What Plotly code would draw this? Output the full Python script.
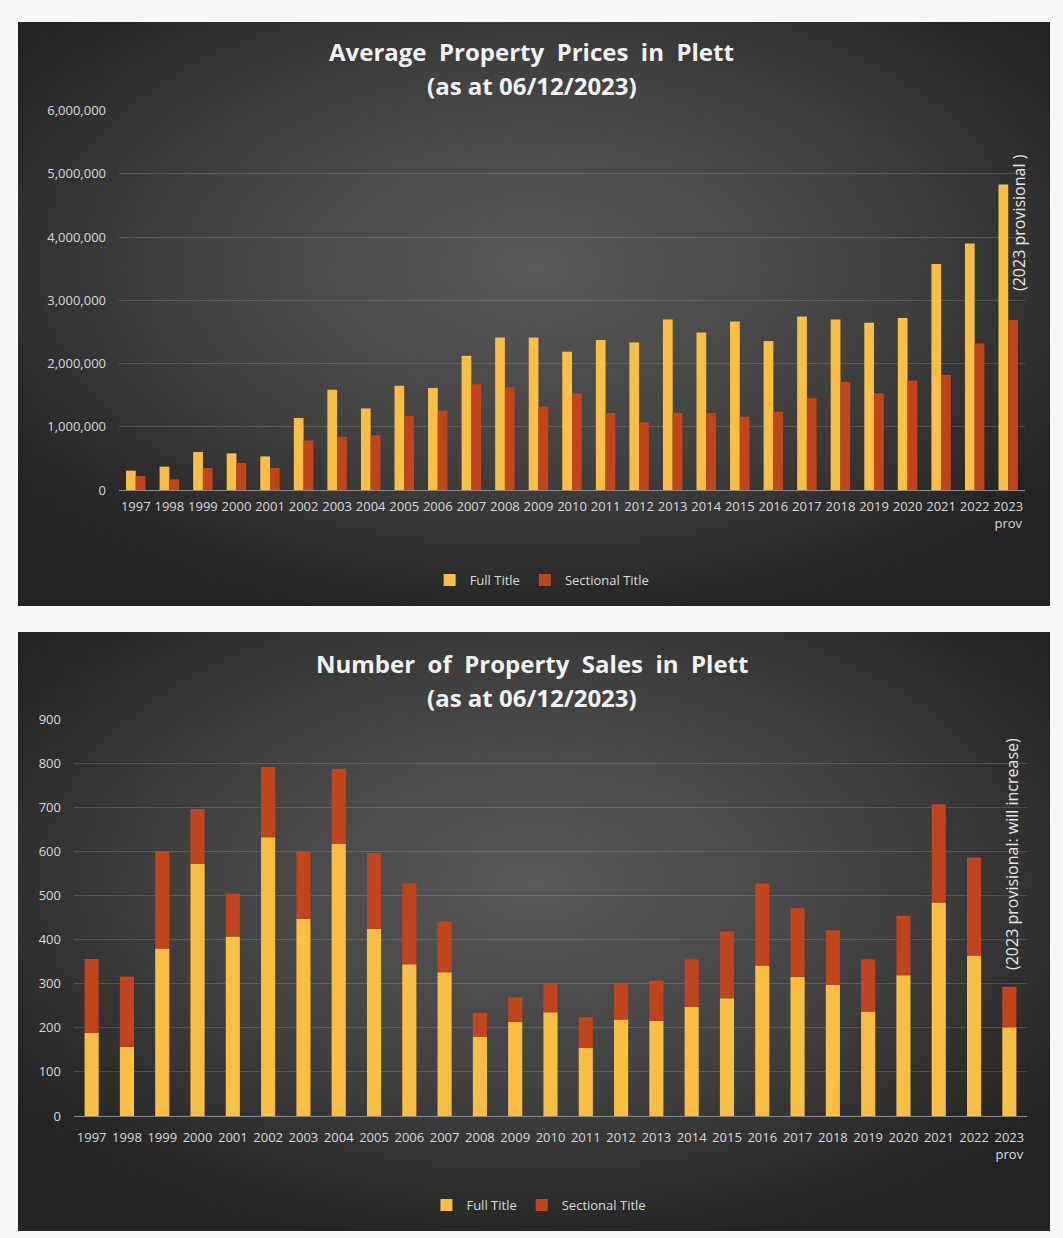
import base64
import plotly.graph_objects as go

categories = ["1997", "1998", "1999", "2000", "2001", "2002", "2003", "2004", "2005",
              "2006", "2007", "2008", "2009", "2010", "2011", "2012", "2013", "2014",
              "2015", "2016", "2017", "2018", "2019", "2020", "2021", "2022", "2023<br>prov"]

price_full = [306000, 369000, 601000, 580000, 532000, 1139000, 1587000, 1291000, 1650000,
              1613000, 2124000, 2414000, 2414000, 2188000, 2372000, 2335000, 2699000, 2493000,
              2667000, 2356000, 2746000, 2699000, 2646000, 2720000, 3574000, 3901000, 4834000]
price_sectional = [221000, 169000, 348000, 427000, 348000, 785000, 843000, 865000, 1170000,
                   1255000, 1671000, 1624000, 1318000, 1526000, 1218000, 1070000, 1218000, 1218000,
                   1160000, 1239000, 1450000, 1708000, 1529000, 1734000, 1819000, 2319000, 2688000]

sales_full = [188, 157, 380, 572, 407, 632, 447, 617, 424, 344, 326, 180, 213, 235,
              154, 219, 216, 247, 267, 341, 315, 297, 237, 319, 484, 364, 201]
sales_sectional = [168, 159, 219, 124, 97, 159, 152, 170, 172, 183, 115, 54, 56, 64,
                   70, 80, 91, 108, 151, 186, 156, 124, 118, 135, 223, 222, 92]

price_y_ticks = [0, 1000000, 2000000, 3000000, 4000000, 5000000, 6000000]
sales_y_ticks = [0, 100, 200, 300, 400, 500, 600, 700, 800, 900]

YELLOW = "#F9BF45"
RED = "#C0441C"
TXT = "#D9D9D9"
FONT = "Open Sans"

W, H = 1063, 1238


def px_x(p):
    return p / W


def px_y(p):
    return 1 - p / H


def grad_uri(w, h):
    svg = (f"<svg xmlns='http://www.w3.org/2000/svg' width='{w}' height='{h}' viewBox='0 0 {w} {h}' "
           "preserveAspectRatio='none'><defs><radialGradient id='g' cx='50%' cy='42%' r='62%'>"
           "<stop offset='0' stop-color='#595959'/><stop offset='0.55' stop-color='#414141'/>"
           "<stop offset='1' stop-color='#232323'/></radialGradient></defs>"
           f"<rect width='{w}' height='{h}' fill='url(#g)'/></svg>")
    return "data:image/svg+xml;base64," + base64.b64encode(svg.encode()).decode()


fig = go.Figure()

# Top chart: grouped bars (explicit offsets)
fig.add_trace(go.Bar(x=categories, y=price_full, name="Full Title", marker_color=YELLOW,
                     marker_line_width=0, width=0.29, offset=-0.29, xaxis="x", yaxis="y",
                     legend="legend"))
fig.add_trace(go.Bar(x=categories, y=price_sectional, name="Sectional Title", marker_color=RED,
                     marker_line_width=0, width=0.29, offset=0.0, xaxis="x", yaxis="y",
                     legend="legend"))

# Bottom chart: stacked bars
fig.add_trace(go.Bar(x=categories, y=sales_full, name="Full Title", marker_color=YELLOW,
                     marker_line_width=0, width=0.4, offset=-0.2, xaxis="x2", yaxis="y2",
                     legend="legend2"))
fig.add_trace(go.Bar(x=categories, y=sales_sectional, base=sales_full, name="Sectional Title",
                     marker_color=RED, marker_line_width=0, width=0.4, offset=-0.2,
                     xaxis="x2", yaxis="y2", legend="legend2"))

axis_common = dict(
    showgrid=False, tickfont=dict(family=FONT, size=13, color=TXT), tickangle=0,
    showline=True, linecolor="#8A8A8A", linewidth=1, ticks="", fixedrange=True,
    type="category", categoryorder="array", categoryarray=categories,
)
yaxis_common = dict(
    showgrid=True, gridcolor="rgba(255,255,255,0.14)", gridwidth=1, zeroline=False,
    tickfont=dict(family=FONT, size=13, color=TXT), ticks="", showline=False,
    ticklabelstandoff=12,
)

fig.update_layout(
    width=W, height=H, margin=dict(l=0, r=0, t=0, b=0, autoexpand=False),
    paper_bgcolor="#F9F9F9", plot_bgcolor="rgba(0,0,0,0)",
    barmode="overlay",
    xaxis=dict(domain=[px_x(119), px_x(1025)], anchor="y", ticklabelstandoff=4, **axis_common),
    yaxis=dict(domain=[px_y(490), px_y(110.7)], anchor="x", range=[0, 6000000],
               tickvals=price_y_ticks, tickformat=",d", **yaxis_common),
    xaxis2=dict(domain=[px_x(74), px_x(1027)], anchor="y2", ticklabelstandoff=9, **axis_common),
    yaxis2=dict(domain=[px_y(1116), px_y(719)], anchor="x2", range=[0, 900],
                tickvals=sales_y_ticks, tickformat="d", **yaxis_common),
    legend=dict(orientation="h", x=0.51, y=px_y(580), xanchor="center", yanchor="middle",
                font=dict(family=FONT, size=13, color=TXT), bgcolor="rgba(0,0,0,0)",
                itemwidth=30, traceorder="normal"),
    legend2=dict(orientation="h", x=0.507, y=px_y(1205), xanchor="center", yanchor="middle",
                 font=dict(family=FONT, size=13, color=TXT), bgcolor="rgba(0,0,0,0)",
                 itemwidth=30, traceorder="normal"),
    showlegend=True,
    images=[
        dict(source=grad_uri(1032, 584), xref="paper", yref="paper", x=px_x(18), y=px_y(22),
             sizex=px_x(1050) - px_x(18), sizey=px_y(22) - px_y(606), sizing="stretch",
             xanchor="left", yanchor="top", layer="below"),
        dict(source=grad_uri(1032, 599), xref="paper", yref="paper", x=px_x(18), y=px_y(632),
             sizex=px_x(1050) - px_x(18), sizey=px_y(632) - px_y(1231), sizing="stretch",
             xanchor="left", yanchor="top", layer="below"),
    ],
)

title_font = dict(family=FONT, size=24, color="#F2F2F2")
ann = [
    dict(text="Average\u00a0 Property\u00a0 Prices\u00a0 in\u00a0 Plett", x=0.5, y=px_y(52)),
    dict(text="(as at 06/12/2023)", x=0.5, y=px_y(86)),
    dict(text="Number\u00a0 of\u00a0 Property\u00a0 Sales\u00a0 in\u00a0 Plett", x=0.5, y=px_y(663)),
    dict(text="(as at 06/12/2023)", x=0.5, y=px_y(697)),
]
annotations = []
for a in ann:
    annotations.append(dict(text="<b>" + a["text"] + "</b>", x=a["x"], y=a["y"], xref="paper",
                            yref="paper", xanchor="center", yanchor="middle", showarrow=False,
                            font=title_font))
annotations.append(dict(text="(2023 provisional )", x=px_x(1019), y=px_y(223), xref="paper",
                        yref="paper", textangle=-90, showarrow=False, xanchor="center",
                        yanchor="middle", font=dict(family=FONT, size=16, color="#E6E6E6")))
annotations.append(dict(text="(2023 provisional: will increase)", x=px_x(1012), y=px_y(854),
                        xref="paper", yref="paper", textangle=-90, showarrow=False,
                        xanchor="center", yanchor="middle",
                        font=dict(family=FONT, size=16, color="#E6E6E6")))
fig.update_layout(annotations=annotations)

fig.write_html("out.html")
